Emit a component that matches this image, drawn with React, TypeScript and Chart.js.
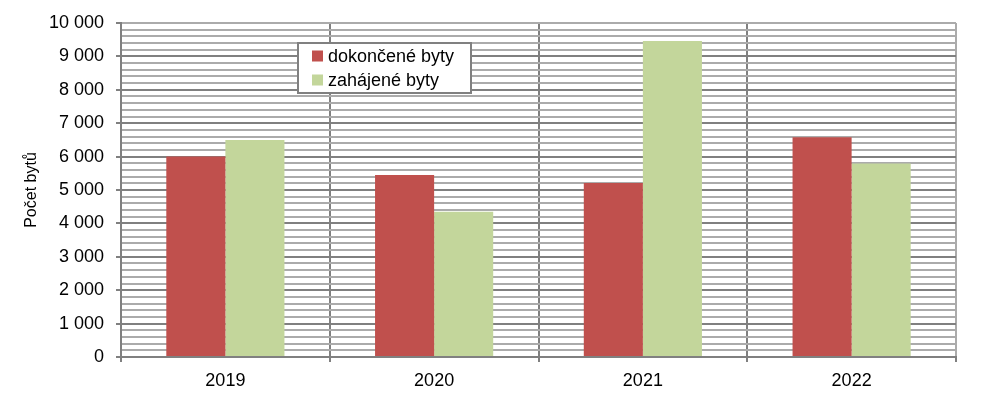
import React, { useEffect, useRef } from 'react';
import { Chart, registerables } from 'chart.js';

Chart.register(...registerables);

// ---- data ----
const categories: string[] = ['2019', '2020', '2021', '2022'];
const completedFlats: number[] = [6000, 5450, 5210, 6580];
const startedFlats: number[] = [6500, 4350, 9460, 5790];
const seriesNames: string[] = ['dokončené byty', 'zahájené byty'];
const yAxisTitle = 'Počet bytů';
const yMin = 0;
const yMax = 10000;
const yMajorStep = 1000;
const yMinorStep = 200;

// ---- styles ----
const FONT = "'Liberation Sans', Arial, sans-serif";
const RED = '#C0504D';
const GREEN = '#C3D69B';
const MAJOR = '#808080';
const MINOR = '#ababab';

function fmt(v: number): string {
  return String(Math.round(v)).replace(/\B(?=(\d{3})+(?!\d))/g, ' ');
}

const boxLegend = {
  id: 'boxLegend',
  afterDraw(chart: any) {
    const ctx = chart.ctx as CanvasRenderingContext2D;
    const x = 298, y = 43, w = 173, h = 50;
    ctx.save();
    ctx.fillStyle = '#ffffff';
    ctx.fillRect(x, y, w, h);
    ctx.strokeStyle = MAJOR;
    ctx.lineWidth = 2;
    ctx.strokeRect(x, y, w, h);
    ctx.font = `18px ${FONT}`;
    ctx.textBaseline = 'middle';
    ctx.textAlign = 'left';
    chart.data.datasets.forEach((ds: any, i: number) => {
      const cy = y + 13 + i * 24;
      ctx.fillStyle = ds.backgroundColor;
      ctx.fillRect(x + 14, cy - 5.5, 11, 11);
      ctx.fillStyle = '#000000';
      ctx.fillText(ds.label, x + 30, cy + 1);
    });
    ctx.restore();
  },
};

export default function App() {
  const ref = useRef<HTMLCanvasElement | null>(null);

  useEffect(() => {
    if (!ref.current) return;
    const chart = new Chart(ref.current, {
      type: 'bar',
      data: {
        labels: categories,
        datasets: [
          {
            label: seriesNames[0],
            data: completedFlats,
            backgroundColor: RED,
            borderWidth: 0,
            categoryPercentage: 0.566,
            barPercentage: 1,
          },
          {
            label: seriesNames[1],
            data: startedFlats,
            backgroundColor: GREEN,
            borderWidth: 0,
            categoryPercentage: 0.566,
            barPercentage: 1,
          },
        ],
      },
      options: {
        responsive: false,
        animation: false,
        layout: { padding: { left: 18, top: 23, right: 41, bottom: 0 } },
        plugins: {
          legend: { display: false },
          tooltip: { enabled: false },
        },
        scales: {
          x: {
            grid: {
              offset: true,
              color: (c: any) => (c.tick ? MAJOR : MINOR),
              lineWidth: 2,
              drawTicks: true,
              tickLength: 5,
              tickColor: MAJOR,
              tickWidth: 2,
            },
            border: { color: MAJOR, width: 2 },
            ticks: {
              font: { family: FONT, size: 18 },
              color: '#000000',
              padding: 8,
            },
            afterFit: (s: any) => {
              s.height = 47;
            },
          },
          y: {
            min: yMin,
            max: yMax,
            ticks: {
              stepSize: yMinorStep,
              autoSkip: false,
              maxTicksLimit: 1000,
              callback: (v: any) => (Number(v) % yMajorStep === 0 ? fmt(Number(v)) : ''),
              font: { family: FONT, size: 18 },
              color: '#000000',
              padding: 12,
            },
            grid: {
              color: (c: any) => {
                const v = c.tick ? c.tick.value : null;
                if (v === null || v === yMax) return MINOR;
                return v % yMajorStep === 0 ? MAJOR : MINOR;
              },
              lineWidth: 2,
              drawTicks: true,
              tickLength: 5,
              tickWidth: 2,
              tickColor: (c: any) =>
                c.tick && c.tick.value % yMajorStep === 0 ? MAJOR : 'rgba(0,0,0,0)',
            },
            border: { color: MAJOR, width: 2 },
            title: {
              display: true,
              text: yAxisTitle,
              font: { family: FONT, size: 16 },
              color: '#000000',
              padding: { top: 4, bottom: 4 },
            },
            afterFit: (s: any) => {
              s.width = 103;
            },
          },
        },
      } as any,
      plugins: [boxLegend],
    });
    return () => chart.destroy();
  }, []);

  return (
    <div style={{ position: 'absolute', left: 0, top: 0, width: 997, height: 404, background: '#ffffff' }}>
      <canvas ref={ref} width={997} height={404} style={{ display: 'block' }} />
    </div>
  );
}
